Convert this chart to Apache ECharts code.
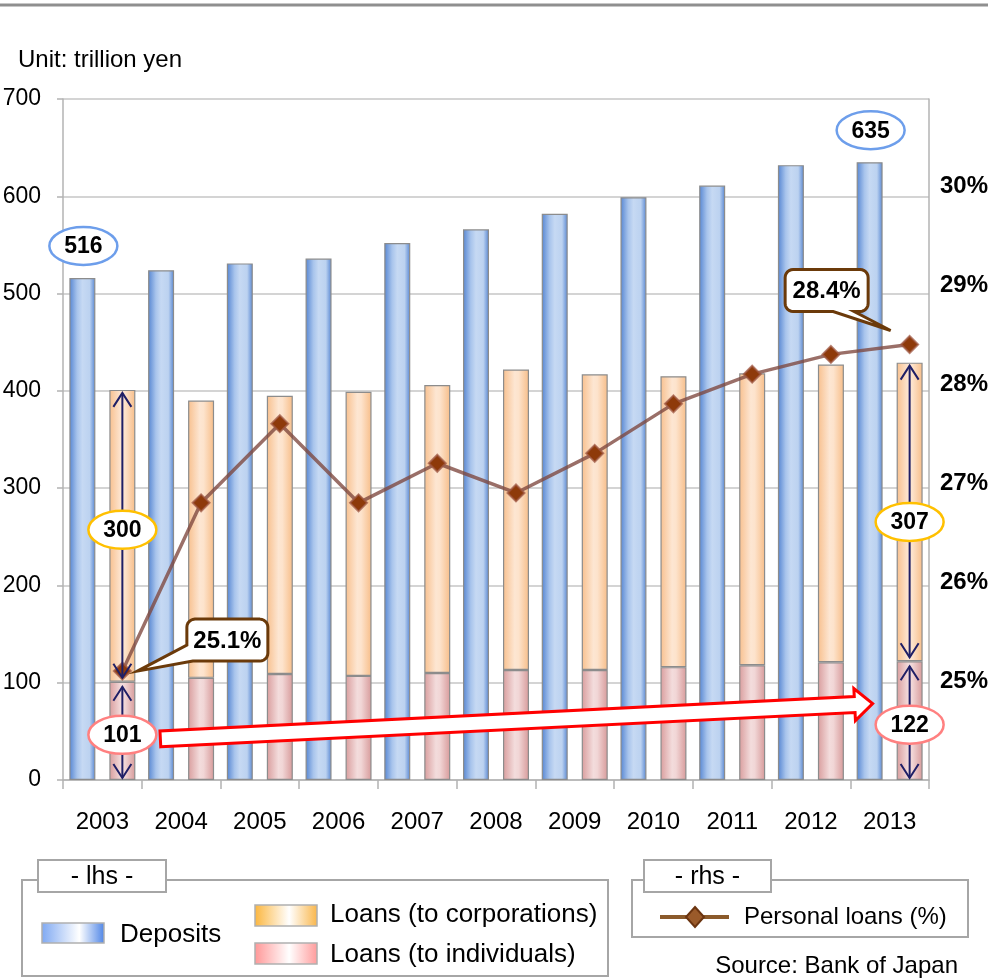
<!DOCTYPE html>
<html>
<head>
<meta charset="utf-8">
<script src="https://cdn.jsdelivr.net/npm/echarts@6/dist/echarts.min.js"></script>
<style>
  html, body { margin: 0; padding: 0; background: #fff; }
  #chart { width: 988px; height: 978px; }
</style>
</head>
<body>
<div id="chart"></div>
<script>
// Banking balances, trillion yen (lhs) and share of personal loans (rhs)
const years = ['2003', '2004', '2005', '2006', '2007', '2008', '2009', '2010', '2011', '2012', '2013'];
const deposits = [516, 524, 531, 536, 552, 566, 582, 599, 611, 632, 635];
const loansIndividuals = [101, 105, 109, 107, 110, 113, 113, 116, 118, 121, 122];
const loansCorporations = [300, 285, 286, 292, 296, 309, 304, 299, 300, 306, 307];
const personalShare = [25.1, 26.8, 27.6, 26.8, 27.2, 26.9, 27.3, 27.8, 28.1, 28.3, 28.4];
const leftTicks = { min: 0, max: 700, step: 100 };
const rightTicks = { min: 24, max: 30.88, step: 1, first: 25, last: 30 };

const FONT = '"Liberation Sans", Arial, sans-serif';
const BAR_W = 26, BAR_GAP = 14;
const PAIR_SHIFT = (BAR_W + BAR_GAP) / 2;   // offset of each bar from its category centre
const GRID = { left: 63, right: 59, top: 99, bottom: 198 };

function hGrad(stops) {
  return new echarts.graphic.LinearGradient(0, 0, 1, 0,
    stops.map(s => ({ offset: s[0], color: s[1] })));
}

const depFill = () => hGrad([[0, '#5585d2'], [0.3, '#a8c4ec'], [0.5, '#c6d9f3'], [0.78, '#bcd2f0'], [1, '#5585d2']]);
const corpFill = () => hGrad([[0, '#f8c08e'], [0.45, '#fde6d2'], [0.6, '#fde3cc'], [1, '#f7bd88']]);
const indFill = () => hGrad([[0, '#d99d9d'], [0.45, '#f3dcdc'], [0.6, '#f1d6d6'], [1, '#d79a9a']]);

const chart = echarts.init(document.getElementById('chart'), null, { renderer: 'canvas' });

const axisGrey = '#b3b3b3';

chart.setOption({
  animation: false,
  backgroundColor: '#fff',
  grid: [
    { left: GRID.left, right: GRID.right, top: GRID.top, bottom: GRID.bottom, containLabel: false, outerBoundsMode: 'none' },
    { left: GRID.left + PAIR_SHIFT, right: GRID.right - PAIR_SHIFT, top: GRID.top, bottom: GRID.bottom, containLabel: false, outerBoundsMode: 'none' }
  ],
  xAxis: [
    {
      type: 'category', gridIndex: 0, data: years,
      axisLine: { lineStyle: { color: axisGrey, width: 1.5 } },
      axisTick: { show: true, length: 9, lineStyle: { color: axisGrey, width: 1.5 } },
      axisLabel: { fontSize: 24, color: '#000', fontFamily: FONT, margin: 30 }
    },
    { type: 'category', gridIndex: 1, data: years, show: false }
  ],
  yAxis: [
    {
      type: 'value', gridIndex: 0, min: leftTicks.min, max: leftTicks.max, interval: leftTicks.step,
      axisLine: { show: true, lineStyle: { color: axisGrey, width: 1.5 } },
      axisTick: { show: true, length: 6, lineStyle: { color: axisGrey, width: 1.5 } },
      splitLine: { lineStyle: { color: '#c6c6c6', width: 1.5 } },
      axisLabel: { fontSize: 23, color: '#000', fontFamily: FONT, margin: 22 }
    },
    {
      type: 'value', gridIndex: 0, position: 'right',
      min: rightTicks.min, max: rightTicks.max, interval: rightTicks.step,
      axisLine: { show: true, lineStyle: { color: axisGrey, width: 1.5 } },
      axisTick: { show: false },
      splitLine: { show: false },
      axisLabel: {
        fontSize: 24, fontWeight: 'bold', color: '#000', fontFamily: FONT, margin: 11,
        showMaxLabel: false,
        formatter: v => (Number.isInteger(v) && v >= rightTicks.first && v <= rightTicks.last) ? v + '%' : ''
      }
    },
    { type: 'value', gridIndex: 1, min: rightTicks.min, max: rightTicks.max, show: false }
  ],
  series: [
    {
      name: 'Deposits', type: 'bar', xAxisIndex: 0, yAxisIndex: 0, stack: 'dep',
      data: deposits, barWidth: BAR_W, barGap: (BAR_GAP / BAR_W * 100) + '%',
      itemStyle: { color: depFill(), borderColor: '#8c8c8c', borderWidth: 1.2 }
    },
    {
      name: 'Loans (to individuals)', type: 'bar', xAxisIndex: 0, yAxisIndex: 0, stack: 'loans',
      data: loansIndividuals, barWidth: BAR_W,
      itemStyle: { color: indFill(), borderColor: '#8c8c8c', borderWidth: 1.2 }
    },
    {
      name: 'Loans (to corporations)', type: 'bar', xAxisIndex: 0, yAxisIndex: 0, stack: 'loans',
      data: loansCorporations, barWidth: BAR_W,
      itemStyle: { color: corpFill(), borderColor: '#8c8c8c', borderWidth: 1.2 }
    },
    {
      name: 'Personal loans (%)', type: 'line', xAxisIndex: 1, yAxisIndex: 2,
      data: personalShare, z: 5,
      symbol: 'diamond', symbolSize: 17,
      lineStyle: { color: 'rgba(125,70,62,0.78)', width: 3.5 },
      itemStyle: { color: '#8e3a0a', borderColor: 'rgba(160,90,70,0.75)', borderWidth: 2 }
    }
  ]
});

// ---- annotations placed through the chart's own scales ----
const barPx = (i, v) => chart.convertToPixel({ xAxisIndex: 0, yAxisIndex: 0 }, [i, v]);
const linePx = (i, v) => chart.convertToPixel({ xAxisIndex: 1, yAxisIndex: 2 }, [i, v]);
const last = years.length - 1;
const NAVY = '#1f1f66';

const g = [];

// headline strip
g.push({ type: 'line', shape: { x1: 0, y1: 5, x2: 988, y2: 5 }, style: { stroke: '#8f8f8f', lineWidth: 3 }, z: 50 });
g.push({ type: 'text', x: 18, y: 60, style: { text: 'Unit: trillion yen', font: '24px ' + FONT, fill: '#000', verticalAlign: 'middle' }, z: 50 });

function vArrowHead(x, y, dir) { // dir: -1 points up, +1 points down
  return { type: 'polyline', shape: { points: [[x - 9, y - dir * 14], [x, y], [x + 9, y - dir * 14]] },
           style: { stroke: NAVY, lineWidth: 2, fill: null }, z: 60 };
}
function doubleArrow(x, yTop, yBot) {
  g.push({ type: 'line', shape: { x1: x, y1: yTop, x2: x, y2: yBot }, style: { stroke: NAVY, lineWidth: 2 }, z: 60 });
  g.push(vArrowHead(x, yTop, -1));
  g.push(vArrowHead(x, yBot, 1));
}
[0, last].forEach(i => {
  const x = barPx(i, 0)[0] + PAIR_SHIFT;
  const yTop = barPx(i, loansIndividuals[i] + loansCorporations[i])[1];
  const yMid = barPx(i, loansIndividuals[i])[1];
  const yBot = barPx(i, 0)[1];
  doubleArrow(x, yTop + 3, yMid - 4);
  doubleArrow(x, yMid + 5, yBot - 2);
});

// red growth arrow between the individual-loan badges
const ind0 = barPx(0, loansIndividuals[0] / 2); ind0[0] += PAIR_SHIFT;
const indN = barPx(last, loansIndividuals[last] / 2); indN[0] += PAIR_SHIFT;
(function () {
  const S = [ind0[0] + 38, ind0[1] + 8];
  const E = [indN[0] - 37, indN[1] - 17];
  const dx = E[0] - S[0], dy = E[1] - S[1], len = Math.hypot(dx, dy);
  const u = [dx / len, dy / len], n = [-u[1], u[0]];
  const L = 18, w = 8, hw = 16;
  const B = [E[0] - u[0] * L, E[1] - u[1] * L];
  const p = (P, k) => [P[0] + n[0] * k, P[1] + n[1] * k];
  g.push({ type: 'polygon', shape: { points: [p(S, w), p(B, w), p(B, hw), E, p(B, -hw), p(B, -w), p(S, -w)] },
           style: { fill: '#fff', stroke: '#ff0000', lineWidth: 3, lineJoin: 'miter' }, z: 70 });
})();

// value badges
function badge(cx, cy, text, stroke) {
  g.push({ type: 'ellipse', shape: { cx, cy, rx: 34, ry: 19 }, style: { fill: '#fff', stroke, lineWidth: 2.5 }, z: 80 });
  g.push({ type: 'text', x: cx, y: cy + 1, style: { text, font: 'bold 23px ' + FONT, fill: '#000', align: 'center', verticalAlign: 'middle' }, z: 81 });
}
[0, last].forEach(i => {
  const d = barPx(i, deposits[i]);
  badge(d[0] - PAIR_SHIFT + 1, d[1] - 32, String(deposits[i]), '#6d9eeb');
  const c = barPx(i, loansIndividuals[i] + loansCorporations[i] / 2);
  badge(c[0] + PAIR_SHIFT, c[1] + (i === 0 ? -6 : 10), String(loansCorporations[i]), '#ffc000');
  const r = barPx(i, loansIndividuals[i] / 2);
  badge(r[0] + PAIR_SHIFT, r[1] + 4, String(loansIndividuals[i]), '#ff8080');
});

// callouts for the first and last share values: rounded box with a pointer wedge
function arcPts(cx, cy, r, a0, a1) {
  const pts = [];
  for (let k = 0; k <= 6; k++) {
    const a = a0 + (a1 - a0) * k / 6;
    pts.push([cx + r * Math.cos(a), cy + r * Math.sin(a)]);
  }
  return pts;
}
function boxCorners(cx, cy, w, h) {
  return { x0: cx - w / 2, x1: cx + w / 2, y0: cy - h / 2, y1: cy + h / 2 };
}
function drawCallout(pts, cx, cy, text) {
  g.push({ type: 'polygon', shape: { points: pts }, style: { fill: '#fff', stroke: '#6b3a0a', lineWidth: 3, lineJoin: 'miter' }, z: 85 });
  g.push({ type: 'text', x: cx, y: cy + 1, style: { text, font: 'bold 24px ' + FONT, fill: '#000', align: 'center', verticalAlign: 'middle' }, z: 86 });
}
const P = Math.PI, R = 8;
// first value: wedge leaves the lower-left corner
(function () {
  const p0 = linePx(0, personalShare[0]);
  const cx = p0[0] + 105, cy = p0[1] - 31;
  const b = boxCorners(cx, cy, 81, 42);
  const tip = [p0[0] + 15, p0[1]];
  const pts = [].concat(
    arcPts(b.x1 - R, b.y0 + R, R, -P / 2, 0),
    arcPts(b.x1 - R, b.y1 - R, R, 0, P / 2),
    [[b.x0 + 6, b.y1], tip, [b.x0, b.y1 - 16]],
    arcPts(b.x0 + R, b.y0 + R, R, P, 1.5 * P)
  );
  drawCallout(pts, cx, cy, personalShare[0].toFixed(1) + '%');
})();
// last value: wedge leaves the lower edge near the right corner
(function () {
  const pN = linePx(last, personalShare[last]);
  const cx = pN[0] - 83, cy = pN[1] - 54;
  const b = boxCorners(cx, cy, 83, 42);
  const tip = [pN[0] - 19, pN[1] - 14];
  const pts = [].concat(
    arcPts(b.x1 - R, b.y0 + R, R, -P / 2, 0),
    arcPts(b.x1 - R, b.y1 - R, R, 0, P / 2),
    [[b.x1 - 14, b.y1], tip, [b.x0 + 48, b.y1]],
    arcPts(b.x0 + R, b.y1 - R, R, P / 2, P),
    arcPts(b.x0 + R, b.y0 + R, R, P, 1.5 * P)
  );
  drawCallout(pts, cx, cy, personalShare[last].toFixed(1) + '%');
})();

// legend panels
const legendGrey = '#a6a6a6';
function tabPanel(x, y, w, h, tx, tw, label) {
  g.push({ type: 'rect', shape: { x, y, width: w, height: h }, style: { fill: '#fff', stroke: legendGrey, lineWidth: 2 }, z: 40 });
  g.push({ type: 'rect', shape: { x: tx, y: y - 20, width: tw, height: 32 }, style: { fill: '#fff', stroke: legendGrey, lineWidth: 2 }, z: 41 });
  g.push({ type: 'text', x: tx + tw / 2, y: y - 3, style: { text: label, font: '25px ' + FONT, fill: '#000', align: 'center', verticalAlign: 'middle' }, z: 42 });
}
function swatch(x, y, h, fill, label, tx, ty, size) {
  g.push({ type: 'rect', shape: { x, y, width: 62, height: h }, style: { fill, stroke: '#b0b0b0', lineWidth: 1.5 }, z: 42 });
  g.push({ type: 'text', x: tx, y: ty, style: { text: label, font: size + 'px ' + FONT, fill: '#000', verticalAlign: 'middle' }, z: 42 });
}
tabPanel(22, 880, 586, 96, 38, 128, '- lhs -');
swatch(42, 923, 20, hGrad([[0, '#7ea8f2'], [0.6, '#ffffff'], [1, '#4d84e6']]), 'Deposits', 120, 935, 26);
swatch(255, 905, 21, hGrad([[0, '#fbb53c'], [0.55, '#ffffff'], [1, '#f9b548']]), 'Loans (to corporations)', 330, 915, 26);
swatch(255, 943, 21, hGrad([[0, '#ff9696'], [0.55, '#ffffff'], [1, '#ff9a9a']]), 'Loans (to individuals)', 330, 955, 26);

tabPanel(632, 880, 336, 57, 644, 127, '- rhs -');
g.push({ type: 'line', shape: { x1: 660, y1: 917, x2: 729, y2: 917 }, style: { stroke: '#8b5a2b', lineWidth: 4 }, z: 42 });
g.push({ type: 'polygon', shape: { points: [[695, 907], [704, 917], [695, 927], [686, 917]] }, style: { fill: '#9a5a2a', stroke: '#6b3410', lineWidth: 2 }, z: 43 });
g.push({ type: 'text', x: 744, y: 917, style: { text: 'Personal loans (%)', font: '24px ' + FONT, fill: '#000', verticalAlign: 'middle' }, z: 42 });

g.push({ type: 'text', x: 958, y: 966, style: { text: 'Source: Bank of Japan', font: '24px ' + FONT, fill: '#000', align: 'right', verticalAlign: 'middle' }, z: 42 });

chart.setOption({ graphic: g });
</script>
</body>
</html>
